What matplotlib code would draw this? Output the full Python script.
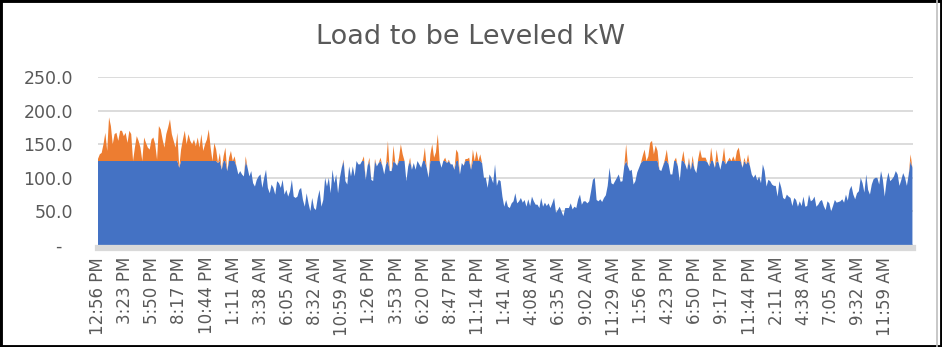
import matplotlib
matplotlib.use("Agg")
import matplotlib.pyplot as plt
from matplotlib.patches import Rectangle
from matplotlib.lines import Line2D
import numpy as np

# load readings every 10 minutes, starting 12:56 PM
step_min = 10
load_kw = [
    128, 135, 137, 150, 167, 140, 190, 177, 150, 165,
    167, 155, 170, 170, 162, 167, 152, 170, 165, 125,
    145, 162, 155, 145, 125, 160, 152, 145, 142, 157,
    160, 150, 127, 177, 172, 157, 145, 165, 175, 187,
    165, 155, 145, 167, 115, 142, 157, 170, 150, 165,
    155, 150, 157, 147, 160, 145, 165, 140, 150, 157,
    172, 145, 125, 152, 142, 122, 137, 112, 132, 145,
    110, 130, 140, 125, 132, 117, 105, 110, 105, 102,
    132, 115, 102, 110, 92, 87, 97, 102, 105, 85,
    100, 112, 85, 77, 90, 85, 75, 95, 92, 85,
    97, 75, 82, 72, 80, 97, 72, 70, 72, 82,
    85, 67, 57, 77, 62, 50, 70, 55, 52, 70,
    82, 57, 67, 100, 87, 100, 77, 112, 92, 105,
    77, 100, 115, 127, 95, 90, 117, 102, 117, 102,
    125, 120, 120, 125, 132, 97, 118, 130, 97, 95,
    128, 117, 122, 130, 118, 105, 120, 155, 110, 110,
    148, 122, 118, 130, 150, 135, 125, 95, 117, 130,
    112, 122, 112, 125, 120, 115, 125, 145, 115, 100,
    135, 150, 130, 138, 165, 125, 115, 125, 130, 122,
    127, 120, 120, 112, 142, 137, 105, 122, 118, 128,
    128, 130, 112, 142, 125, 140, 125, 135, 122, 100,
    100, 85, 105, 100, 92, 120, 88, 97, 95, 72,
    57, 67, 57, 55, 62, 65, 77, 62, 65, 70,
    63, 67, 57, 68, 58, 72, 65, 60, 60, 55,
    70, 57, 63, 58, 62, 55, 62, 70, 48, 52,
    57, 50, 43, 55, 55, 55, 62, 53, 57, 55,
    68, 75, 60, 65, 65, 62, 65, 80, 97, 100,
    67, 65, 68, 64, 70, 74, 88, 115, 92, 90,
    95, 100, 105, 94, 95, 118, 150, 117, 110, 112,
    90, 95, 108, 115, 122, 133, 142, 125, 132, 152,
    155, 135, 148, 140, 112, 110, 118, 128, 142, 120,
    105, 105, 125, 130, 117, 95, 125, 140, 120, 112,
    130, 112, 133, 113, 107, 128, 142, 130, 130, 130,
    123, 117, 145, 125, 115, 142, 123, 112, 125, 145,
    120, 125, 130, 125, 132, 125, 140, 145, 128, 115,
    130, 120, 135, 118, 105, 100, 105, 96, 102, 92,
    120, 110, 87, 97, 95, 90, 88, 88, 72, 95,
    85, 70, 68, 75, 72, 70, 58, 70, 67, 57,
    65, 58, 72, 57, 58, 75, 65, 67, 72, 57,
    60, 65, 67, 58, 52, 65, 62, 50, 58, 67,
    63, 64, 65, 68, 63, 75, 66, 82, 88, 75,
    68, 77, 80, 100, 92, 78, 105, 82, 75, 90,
    98, 100, 100, 90, 110, 97, 72, 95, 108, 95,
    98, 102, 110, 105, 88, 97, 107, 100, 88, 105,
    135, 115,
]
level_kw = 125  # load above this is shown as to be leveled

tick_step_min = 147
tick_labels = [
    "12:56 PM", "3:23 PM", "5:50 PM", "8:17 PM", "10:44 PM", "1:11 AM",
    "3:38 AM", "6:05 AM", "8:32 AM", "10:59 AM", "1:26 PM", "3:53 PM",
    "6:20 PM", "8:47 PM", "11:14 PM", "1:41 AM", "4:08 AM", "6:35 AM",
    "9:02 AM", "11:29 AM", "1:56 PM", "4:23 PM", "6:50 PM", "9:17 PM",
    "11:44 PM", "2:11 AM", "4:38 AM", "7:05 AM", "9:32 AM", "11:59 AM",
]
y_ticks = [0, 50, 100, 150, 200, 250]
y_labels = ["-  ", "50.0", "100.0", "150.0", "200.0", "250.0"]

plt.rcParams["font.family"] = ["DejaVu Sans"]
text_grey = "#595959"
grid_grey = "#d9d9d9"

load = np.array(load_kw, dtype=float)
minutes = np.arange(len(load)) * step_min
base = np.minimum(load, level_kw)
excess = load - base

fig = plt.figure(figsize=(9.42, 3.47), dpi=100)
ax = fig.add_axes([0.104, 0.294, 0.865, 0.484])

ax.stackplot(minutes, base, excess, colors=["#4472C4", "#ED7D31"], linewidth=0)

ax.set_xlim(0, 4412)
ax.set_ylim(0, 250)
ax.set_yticks(y_ticks)
ax.set_yticklabels(y_labels)
ax.set_xticks(np.arange(len(tick_labels)) * tick_step_min)
ax.set_xticklabels(tick_labels)

ax.tick_params(axis="y", length=0, pad=18, labelsize=12.5, labelcolor=text_grey)
ax.tick_params(axis="x", length=0, pad=6, labelsize=12, labelcolor=text_grey,
               labelrotation=90)

ax.yaxis.grid(True, color=grid_grey, linewidth=1.3)
ax.set_axisbelow(True)
for side in ["top", "right", "left"]:
    ax.spines[side].set_visible(False)
ax.spines["bottom"].set_color(grid_grey)
ax.spines["bottom"].set_linewidth(4.5)
ax.spines["bottom"].set_position(("outward", 2.5))

fig.text(0.5, 0.893, "Load to be Leveled kW", ha="center", va="center",
         fontsize=19.5, color=text_grey)

# chart border
fig.add_artist(Line2D([0.9947, 0.9947], [0.0, 1.0], color="#bfbfbf",
                      linewidth=1.2, transform=fig.transFigure))
fig.patches.append(Rectangle((0, 0), 1, 1, transform=fig.transFigure,
                             fill=False, edgecolor="black", linewidth=3.5))

fig.savefig("out.png", dpi=100)
